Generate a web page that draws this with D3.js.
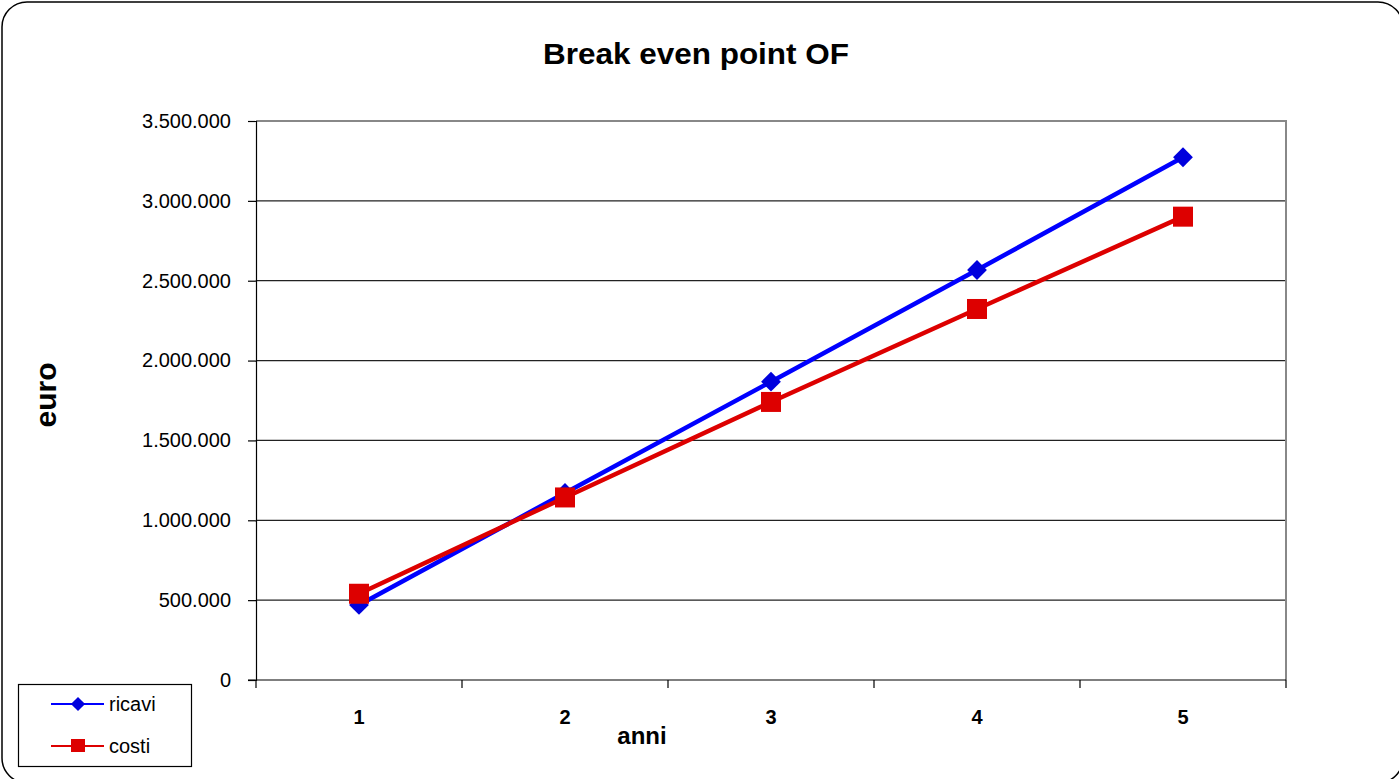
<!DOCTYPE html>
<html><head><meta charset="utf-8">
<script src="https://cdn.jsdelivr.net/npm/d3@7"></script>
<style>body{margin:0;background:#fff}svg{display:block}text{font-family:"Liberation Sans",Arial,sans-serif}</style>
</head><body><svg id="c" width="1399" height="779"></svg>
<script>
const categories = ["1","2","3","4","5"];
const ricavi = [470000, 1171000, 1868000, 2567000, 3273000];
const costi  = [540000, 1143000, 1741000, 2323000, 2901000];
const yTicks = [0,500000,1000000,1500000,2000000,2500000,3000000,3500000];
const seriesNames = ["ricavi","costi"];
const seriesColors = ["#0000ff","#dd0000"];

const svg = d3.select("#c");
// frame
svg.append("rect").attr("x",2).attr("y",2).attr("width",1401).attr("height",781)
  .attr("rx",25).attr("fill","#fff").attr("stroke","#000").attr("stroke-width",1.5);

const L=256, R=1286, T=121, B=680;
const x = d3.scaleBand().domain(categories).range([L,R]);
const y = d3.scaleLinear().domain([0,3500000]).range([B,T]);
const fmt = v => d3.format(",")(v).replace(/,/g,".");

// gridlines
svg.append("g").selectAll("line").data(yTicks.slice(1,-1)).join("line")
  .attr("x1",L).attr("x2",R).attr("y1",d=>y(d)).attr("y2",d=>y(d))
  .attr("stroke","#222").attr("stroke-width",1.2);
// top/right border
svg.append("path").attr("d",`M${L},${T}H${R}V${B}`).attr("fill","none")
  .attr("stroke","#888").attr("stroke-width",2);

// y axis
const ya = svg.append("g").attr("transform",`translate(${L},0)`)
  .call(d3.axisLeft(y).tickValues(yTicks).tickFormat(fmt).tickSize(8).tickPadding(17));
ya.select(".domain").attr("stroke","#000").attr("stroke-width",1.2);
ya.selectAll(".tick line").attr("stroke","#000").attr("stroke-width",1.2);
ya.selectAll("text").attr("font-size",20).attr("fill","#000").style("font-family",'"Liberation Sans",Arial,sans-serif');

// x axis
const xa = svg.append("g").attr("transform",`translate(0,${B})`);
xa.append("line").attr("x1",L-8).attr("x2",R).attr("stroke","#000").attr("stroke-width",1.2);
const bounds = categories.map(c=>x(c)).concat([R]);
xa.selectAll("line.t").data(bounds).join("line").attr("class","t")
  .attr("x1",d=>d).attr("x2",d=>d).attr("y1",0).attr("y2",8).attr("stroke","#000").attr("stroke-width",1.2);
xa.selectAll("text").data(categories).join("text")
  .attr("x",d=>x(d)+x.bandwidth()/2).attr("y",44).attr("text-anchor","middle")
  .attr("font-size",20).attr("font-weight","bold").text(d=>d);

// series
const cx = c => x(c)+x.bandwidth()/2;
const line = d3.line().x((d,i)=>cx(categories[i])).y(d=>y(d));
[ricavi,costi].forEach((s,k)=>{
  svg.append("path").attr("d",line(s)).attr("fill","none")
    .attr("stroke",seriesColors[k]).attr("stroke-width",4.5);
});
// markers
svg.append("g").selectAll("path").data(ricavi).join("path")
  .attr("transform",(d,i)=>`translate(${cx(categories[i])},${y(d)}) rotate(45)`)
  .attr("d","M-7,-7H7V7H-7Z").attr("fill","#0000dd");
svg.append("g").selectAll("rect").data(costi).join("rect")
  .attr("x",(d,i)=>cx(categories[i])-10).attr("y",d=>y(d)-10)
  .attr("width",20).attr("height",20).attr("fill","#dd0000");

// title & axis titles
svg.append("text").attr("x",543).attr("y",64)
  .attr("font-size",30).attr("font-weight","bold")
  .attr("textLength",306).attr("lengthAdjust","spacingAndGlyphs").text("Break even point OF");
svg.append("text").attr("x",642).attr("y",744).attr("text-anchor","middle")
  .attr("font-size",24).attr("font-weight","bold").text("anni");
svg.append("text").attr("transform","translate(56,395) rotate(-90)").attr("text-anchor","middle")
  .attr("font-size",30).attr("font-weight","bold").text("euro");

// legend
const lg = svg.append("g");
lg.append("rect").attr("x",18.5).attr("y",684.5).attr("width",173).attr("height",82)
  .attr("fill","#fff").attr("stroke","#000").attr("stroke-width",1.2);
const ly = [704,746];
seriesNames.forEach((n,k)=>{
  lg.append("line").attr("x1",51).attr("x2",104).attr("y1",ly[k]).attr("y2",ly[k])
    .attr("stroke",seriesColors[k]).attr("stroke-width",2);
  if(k===0) lg.append("path").attr("transform",`translate(78,${ly[k]}) rotate(45)`)
    .attr("d","M-5,-5H5V5H-5Z").attr("fill","#0000dd");
  else lg.append("rect").attr("x",71).attr("y",ly[k]-7).attr("width",14).attr("height",13).attr("fill","#dd0000");
  lg.append("text").attr("x",109).attr("y",ly[k]+7).attr("font-size",20).text(n);
});
</script></body></html>
